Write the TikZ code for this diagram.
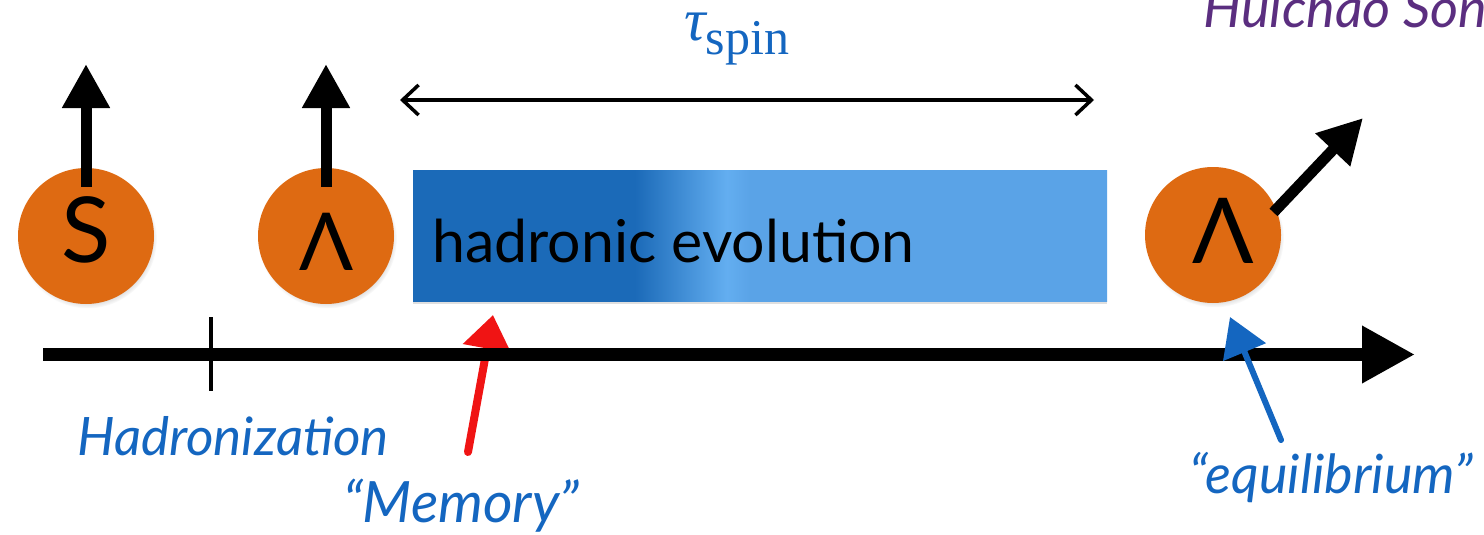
\documentclass[tikz,border=0pt]{standalone}
\usepackage{fontspec}
\setmainfont{Lato}
\newfontfamily\timesfont{Liberation Serif}
\usetikzlibrary{arrows.meta,shadows}

\definecolor{particle}{HTML}{DE6A12}
\definecolor{labelblue}{HTML}{1466C0}
\definecolor{authorpurple}{HTML}{5B2E80}
\definecolor{evodark}{HTML}{1B6AB8}
\definecolor{evoband}{HTML}{63AEF0}
\definecolor{evolight}{HTML}{5AA3E7}
\definecolor{handred}{HTML}{F01414}

% the path's bounding box maps onto 25bp..75bp of the shading
\pgfdeclarehorizontalshading{evoshade}{100bp}{%
  color(0bp)=(evodark); color(41bp)=(evodark); color(47.6bp)=(evoband);
  color(49.3bp)=(evolight); color(100bp)=(evolight)}

\begin{document}
\begin{tikzpicture}[x=1pt,y=-1pt,
  ball/.style={circle, fill=particle, minimum size=136pt, inner sep=0pt,
    circular drop shadow={shadow xshift=1.5pt, shadow yshift=-3pt, shadow scale=1.02, opacity=0.45}},
  glyph/.style={anchor=base, text=black, inner sep=0pt},
  spinarrow/.style={line width=11pt, -{Triangle[width=45pt,length=44pt]}},
  timeaxis/.style={line width=13pt, -{Triangle[width=54pt,length=53pt]}},
  tickmark/.style={line width=4.5pt},
  span/.style={line width=3.5pt,
    {Straight Barb[length=16pt,width=30pt]}-{Straight Barb[length=16pt,width=30pt]}},
  evobox/.style={rectangle, minimum width=694pt, minimum height=131pt, inner sep=0pt,
    shading=evoshade, drop shadow={shadow xshift=0pt, shadow yshift=-3pt, opacity=0.25}},
  note/.style={text=labelblue, font=\itshape\fontsize{54}{54}\selectfont, inner sep=0pt, anchor=base west},
  scribble/.style={line width=#1, line cap=round}
]
\useasboundingbox (0,0) rectangle (1484,535);

% author tag, running off the right edge
\node[anchor=base west, inner sep=0pt, text=authorpurple,
      font=\itshape\fontsize{54}{54}\selectfont] (author) at (1203,28) {Huichao Song};

% spin relaxation time
\node[anchor=base west, inner sep=0pt, text=labelblue] (tau) at (684,41)
  {{\timesfont\itshape\fontsize{60}{60}\selectfont τ}{\timesfont\fontsize{50}{50}\selectfont\raisebox{-14pt}{spin}}};
\coordinate (spanL) at (400,100);
\coordinate (spanR) at (1094,100);
\draw[span] (spanL) -- (spanR);

% hadronic stage
\node[evobox] (evo) at (760,235.5) {};
\node[anchor=base west, inner sep=0pt, text=black, font=\fontsize{59}{59}\selectfont]
  (evotxt) at (432,262) {hadronic evolution};

% particles and their spins
\node[ball] (S) at (86,236) {};
\node[glyph, font=\fontsize{91}{91}\selectfont] (Stxt) at (86,262) {S};
\coordinate (Stip) at (86,64);
\draw[spinarrow, shorten <=-19pt] (S.north) -- (Stip);

\node[ball] (L1) at (326,236) {};
\node[glyph, font=\fontsize{80}{80}\selectfont] (L1txt) at (327,270) {Λ};
\coordinate (L1tip) at (326,64);
\draw[spinarrow, shorten <=-19pt] (L1.north) -- (L1tip);

\node[ball] (L2) at (1213,235) {};
\node[glyph, font=\fontsize{91}{91}\selectfont] (L2txt) at (1223,263) {Λ};
\coordinate (L2tip) at (1363,118);
\draw[spinarrow, shorten <=-4pt] (L2.22) -- (L2tip);

% red pointer sits below the time axis
\coordinate (memtail) at (468,452);
\coordinate (memtip) at (493,315);
\draw[scribble=8pt, handred, -{Triangle[width=47pt,length=34pt]}] (memtail) -- (memtip);

% time axis
\coordinate (t0) at (43,354.5);
\coordinate (t1) at (1415,354.5);
\draw[timeaxis] (t0) -- (t1);
\coordinate (hadtop) at (211,317);
\coordinate (hadbot) at (211,391);
\draw[tickmark] (hadtop) -- (hadbot);

% blue pointer sits on top of the axis
\coordinate (eqtail) at (1281,440);
\coordinate (eqtip) at (1230,317);
\draw[scribble=6pt, labelblue, -{Triangle[width=45pt,length=38pt]}] (eqtail) -- (eqtip);

% labels
\node[note, font=\itshape\fontsize{53}{53}\selectfont] (had) at (77,455) {Hadronization};
\node[note, font=\itshape\fontsize{57}{57}\selectfont] (mem) at (343,522) {“Memory”};
\node[note] (eq) at (1189,493) {“equilibrium”};
\end{tikzpicture}
\end{document}
